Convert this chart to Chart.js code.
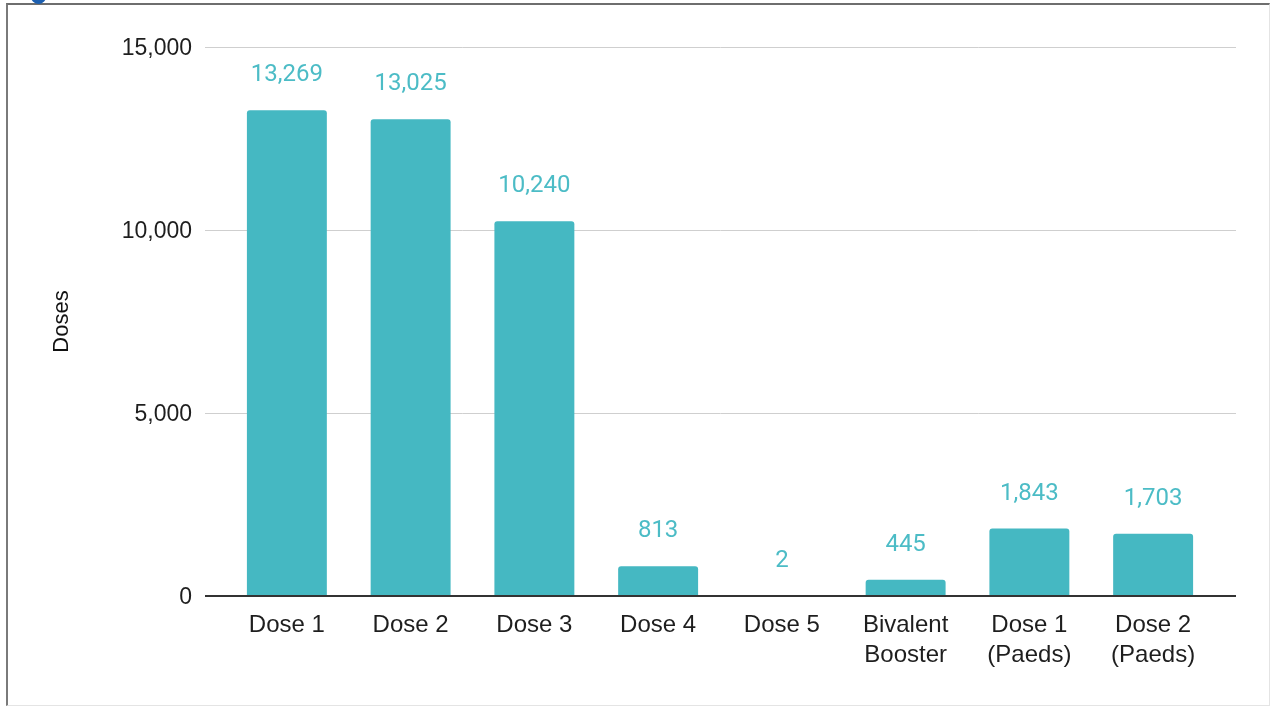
<!DOCTYPE html>
<html>
<head>
<meta charset="utf-8">
<script src="https://cdn.jsdelivr.net/npm/chart.js@4/dist/chart.umd.min.js"></script>
<style>
  html, body { margin: 0; padding: 0; background: #fff; overflow: hidden; }
  #frame {
    position: absolute; left: 6px; top: 3px; width: 1261px; height: 700px;
    border-left: 2px solid #7a7a7a; border-top: 2px solid #6e6e6e;
    border-right: 1px solid #e4e4e4; border-bottom: 1px solid #e4e4e4;
  }
  #dot {
    position: absolute; left: 31px; top: -11px; width: 15px; height: 15px;
    border-radius: 50%; background: #1c5fb0;
  }
  #wrap { position: absolute; left: 0; top: 0; width: 1274px; height: 706px; }
</style>
</head>
<body>
<div id="frame"></div>
<div id="dot"></div>
<div id="wrap"><canvas id="myChart"></canvas></div>
<script>
// categories and values
var doseLabels = ["Dose 1", "Dose 2", "Dose 3", "Dose 4", "Dose 5",
                  ["Bivalent", "Booster"], ["Dose 1", "(Paeds)"], ["Dose 2", "(Paeds)"]];
var doseValues = [13269, 13025, 10240, 813, 2, 445, 1843, 1703];
var yTicks = [0, 5000, 10000, 15000];

var barColor = "#45b8c2";
var labelColor = "#4cbcc6";

// gridlines stretch a little past the bars, like the original
var gridPlugin = {
  id: 'gridLines',
  beforeDatasetsDraw: function(chart) {
    var ctx = chart.ctx, y = chart.scales.y, area = chart.chartArea;
    ctx.save();
    ctx.strokeStyle = "#cfcfcf";
    ctx.lineWidth = 1;
    yTicks.forEach(function(v) {
      if (v === 0) return;
      var py = Math.round(y.getPixelForValue(v)) + 0.5;
      ctx.beginPath();
      ctx.moveTo(area.left - 20, py);
      ctx.lineTo(area.right + 21, py);
      ctx.stroke();
    });
    ctx.restore();
  },
  afterDatasetsDraw: function(chart) {
    var ctx = chart.ctx, y = chart.scales.y, area = chart.chartArea;
    var py = y.getPixelForValue(0);
    ctx.save();
    ctx.strokeStyle = "#333";
    ctx.lineWidth = 2;
    ctx.beginPath();
    ctx.moveTo(area.left - 20, py);
    ctx.lineTo(area.right + 21, py);
    ctx.stroke();

    // value labels above the bars
    ctx.fillStyle = labelColor;
    ctx.font = "24px Roboto";
    ctx.textAlign = "center";
    ctx.textBaseline = "alphabetic";
    chart.getDatasetMeta(0).data.forEach(function(bar, i) {
      ctx.fillText(doseValues[i].toLocaleString('en-US'), bar.x, bar.y - 29);
    });
    ctx.restore();
  }
};

new Chart("myChart", {
  type: "bar",
  data: {
    labels: doseLabels,
    datasets: [{
      data: doseValues,
      backgroundColor: barColor,
      borderRadius: 3,
      categoryPercentage: 1,
      barPercentage: 0.646
    }]
  },
  options: {
    responsive: true,
    maintainAspectRatio: false,
    animation: false,
    layout: { padding: { left: 0, right: 59, top: 47, bottom: 0 } },
    plugins: { legend: { display: false }, tooltip: { enabled: false } },
    scales: {
      x: {
        grid: { display: false, drawTicks: false },
        border: { display: false },
        ticks: {
          color: "#1e1e1e",
          font: { family: "'Liberation Sans', Arial", size: 24, lineHeight: 1.25 },
          padding: 14,
          maxRotation: 0,
          autoSkip: false
        },
        afterFit: function(scale) { scale.height = 110; }
      },
      y: {
        min: 0,
        max: 15000,
        grid: { display: false, drawTicks: false },
        border: { display: false },
        ticks: {
          stepSize: 5000,
          color: "#1e1e1e",
          font: { family: "'Liberation Sans', Arial", size: 23 },
          padding: 33,
          labelOffset: 2,
          callback: function(v) { return v.toLocaleString('en-US'); }
        },
        title: {
          display: true,
          text: "Doses",
          color: "#111",
          font: { family: "'Liberation Sans', Arial", size: 22 },
          padding: { top: 49, bottom: 0 }
        },
        afterFit: function(scale) { scale.width = 225; }
      }
    }
  },
  plugins: [gridPlugin]
});
</script>
</body>
</html>
